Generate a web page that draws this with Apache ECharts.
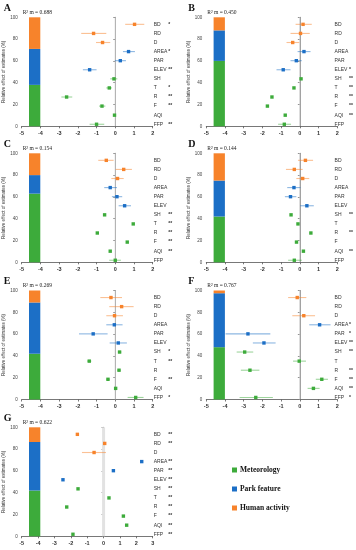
<!DOCTYPE html>
<html><head><meta charset="utf-8">
<script src="https://cdn.jsdelivr.net/npm/echarts@6/dist/echarts.min.js"></script>
<style>html,body{margin:0;padding:0;background:#fff}#c{width:356px;height:550px}</style>
</head><body><div id="c"></div>
<script>
const categories = ['BD','RD','D','AREA','PAR','ELEV','SH','T','R','F','AQI','FFP'];
const groupOf = ['human','human','human','park','park','park','met','met','met','met','met','met'];
const panelLetters = ['A','B','C','D','E','F','G'];
const r2Values = ['0.688','0.450','0.154','0.144','0.269','0.767','0.622'];
const xMins = [-5,-5,-5,-5,-5,-5,-5];
const xMaxs = [2,2,2,2,2,2,3];
const yTicks = [0,20,40,60,80,100];
const meteorologyShare = [38,60,63,42,42,48,42];
const parkShare = [33,28,17,33,47,49.5,44.5];
const humanShare = [29,12,20,25,11,2.5,13.5];

const estA = [1.03,-1.16,-0.68,0.71,0.27,-1.37,-0.07,-0.32,-2.6,-0.71,-0.04,-1.0];
const lowA = [0.53,-1.82,-1.03,0.41,-0.02,-1.73,-0.27,-0.48,-2.88,-0.87,-0.1,-1.37];
const highA = [1.55,-0.48,-0.27,1.05,0.57,-1.0,0.11,-0.18,-2.3,-0.53,0.02,-0.59];
const sigA = ['*','','','*','','**','','*','**','**','','**'];

const estB = [0.32,0.18,-0.25,0.37,-0.05,-0.77,0.21,-0.18,-1.39,-1.64,-0.66,-0.71];
const lowB = [-0.09,-0.37,-0.59,0.02,-0.37,-1.14,0.17,-0.22,-1.43,-1.68,-0.7,-1.05];
const highB = [0.8,0.69,0.11,0.73,0.25,-0.37,0.25,-0.14,-1.35,-1.6,-0.62,-0.34];
const sigB = ['','','','','','*','**','**','**','**','**',''];

const estC = [-0.48,0.45,0.12,-0.27,0.09,0.5,-0.57,0.96,-0.96,0.64,-0.27,0.0];
const lowC = [-0.91,0.02,-0.21,-0.59,-0.18,0.18,-0.61,0.92,-1.0,0.6,-0.31,-0.32];
const highC = [-0.09,0.89,0.45,0.09,0.37,0.84,-0.53,1.0,-0.92,0.68,-0.23,0.3];
const sigC = ['','','','','','','**','**','**','**','**',''];

const estD = [0.45,-0.16,0.3,-0.18,-0.37,0.53,-0.34,0.04,0.75,-0.04,0.34,-0.16];
const lowD = [0.04,-0.62,-0.05,-0.55,-0.68,0.16,-0.38,0.0,0.71,-0.08,0.3,-0.5];
const highD = [0.87,0.3,0.66,0.18,-0.05,0.91,-0.3,0.08,0.79,0.0,0.38,0.25];
const sigD = ['','','','','','','**','','**','','**',''];

const estE = [-0.23,0.34,-0.04,-0.05,-1.18,0.16,0.23,-1.39,0.2,-0.39,0.02,1.09];
const lowE = [-0.8,-0.32,-0.48,-0.48,-1.94,-0.3,0.14,-1.5,0.11,-0.48,-0.04,0.66];
const highE = [0.36,0.98,0.41,0.39,-0.41,0.62,0.32,-1.28,0.29,-0.3,0.08,1.51];
const sigE = ['','','','','','','*','**','','**','','*'];

const estF = [0.0,null,0.36,1.23,-2.71,-1.83,-2.89,0.11,-2.6,1.35,0.89,-2.28];
const lowF = [-0.5,null,-0.27,0.66,-3.94,-2.44,-3.33,-0.23,-3.1,1.02,0.57,-3.17];
const highF = [0.5,null,0.98,1.83,-1.48,-1.19,-2.42,0.48,-2.08,1.69,1.23,-1.34];
const sigF = ['','','','*','*','**','**','','**','**','**','*'];

const estG = [-1.6,0.07,-0.58,2.33,0.6,-2.48,-1.56,0.33,-2.25,1.21,1.41,-1.87];
const lowG = [-1.6,0.07,-1.32,2.33,0.6,-2.48,-1.56,0.33,-2.25,1.21,1.41,-1.87];
const highG = [-1.6,0.07,0.15,2.33,0.6,-2.48,-1.56,0.33,-2.25,1.21,1.41,-1.87];
const sigG = ['**','**','','**','**','**','**','**','**','**','**','**'];

const estimates = [estA,estB,estC,estD,estE,estF,estG];
const lows = [lowA,lowB,lowC,lowD,lowE,lowF,lowG];
const highs = [highA,highB,highC,highD,highE,highF,highG];
const sigs = [sigA,sigB,sigC,sigD,sigE,sigF,sigG];

const COLORS = {met:'#3dab3b', park:'#1c6fc6', human:'#f7832b'};
const colLeft = [21.7, 206.3];
const rowTop = [17.3, 153.3, 290.5, 427.3];
const PW = 131, PH = 109;
const sans = 'Liberation Sans', serif = 'Liberation Serif';

const grid = [], xAxis = [], yAxis = [], series = [], graphic = [];
panelLetters.forEach((L, p) => {
  const left = colLeft[p % 2], top = rowTop[Math.floor(p / 2)];
  const g0 = grid.length;
  grid.push({left: left, top: top, width: PW, height: PH});
  xAxis.push({type:'value', gridIndex:g0, min:xMins[p], max:xMaxs[p], interval:1,
    axisLine:{show:true,lineStyle:{color:'#555',width:0.8}}, axisTick:{show:true,length:2,lineStyle:{color:'#555',width:0.8}},
    axisLabel:{fontSize:5.5, fontFamily:sans, color:'#333', margin:4, fontWeight:'bold', showMaxLabel:true, showMinLabel:true, hideOverlap:false},
    splitLine:{show:false}});
  yAxis.push({type:'value', gridIndex:g0, min:0, max:100, interval:20,
    axisLine:{show:true,lineStyle:{color:'#777',width:0.8}}, axisTick:{show:true,length:2,lineStyle:{color:'#777',width:0.8}},
    axisLabel:{fontSize:4.5, fontFamily:sans, color:'#444', margin:4}, splitLine:{show:false},
    name:'Relative effect of estimates (%)', nameLocation:'middle', nameRotate:90, nameGap:12,
    nameTextStyle:{fontSize:4.5, fontFamily:sans, color:'#333'}});
  series.push({type:'line', xAxisIndex:g0, yAxisIndex:g0, data:[[0,0],[0,100]], symbol:'none', silent:true,
    lineStyle:{color: p===6 ? '#e2e2e2' : '#c4c4c4', width: p===6 ? 3 : 0.9}, z:1});
  const g1 = grid.length;
  grid.push({left: left + 7.3, top: top, width: 11.3, height: PH});
  xAxis.push({type:'category', gridIndex:g1, data:['share'], show:false});
  yAxis.push({type:'value', gridIndex:g1, min:0, max:100, show:false});
  [['Meteorology', meteorologyShare, COLORS.met], ['Park feature', parkShare, COLORS.park], ['Human activity', humanShare, COLORS.human]]
    .forEach(([nm, arr, col]) => series.push({type:'bar', name:nm, stack:'s'+p, xAxisIndex:g1, yAxisIndex:g1,
      data:[arr[p]], barWidth:'100%', itemStyle:{color:col}, silent:true}));
  const g2 = grid.length;
  grid.push({left: left, top: top + 2.5, width: PW, height: PH});
  xAxis.push({type:'value', gridIndex:g2, min:xMins[p], max:xMaxs[p], show:false});
  const sig = sigs[p];
  yAxis.push({type:'category', gridIndex:g2, data:categories, inverse:true, position:'right',
    axisLine:{show:false}, axisTick:{show:false}, splitLine:{show:false},
    axisLabel:{margin:1, interval:0, hideOverlap:false, formatter:(v, i) => '{n|' + v + '}{s|' + (sig[i] || '') + '}',
      rich:{n:{width:14.5, fontSize:5, fontFamily:sans, color:'#333'}, s:{fontSize:5, fontFamily:sans, color:'#333', fontWeight:'bold'}}}});
  const est = estimates[p], lo = lows[p], hi = highs[p];
  const data = [];
  est.forEach((v, i) => { if (v !== null) data.push([v, lo[i], hi[i], i]); });
  series.push({type:'custom', xAxisIndex:g2, yAxisIndex:g2, data:data, encode:{x:[0,1,2], y:3}, z:5,
    renderItem:(params, api) => {
      const i = api.value(3);
      const c = api.coord([api.value(0), i]);
      const a = api.coord([api.value(1), i]);
      const b = api.coord([api.value(2), i]);
      const col = COLORS[groupOf[i]];
      return {type:'group', children:[
        {type:'line', shape:{x1:a[0], y1:a[1], x2:b[0], y2:b[1]}, style:{stroke:col, lineWidth:1.1, opacity:0.5}},
        {type:'rect', shape:{x:c[0]-1.7, y:c[1]-1.7, width:3.4, height:3.4}, style:{fill:col}}
      ]};
    }});
  graphic.push({type:'text', left: left - 18, top: top - 14, style:{text:L, font:'bold 10px "Liberation Serif"', fill:'#111'}});
  graphic.push({type:'text', left: left + 1, top: top - 8, style:{text:'R² m = ' + r2Values[p], font:'5.5px "Liberation Serif"', fill:'#222'}});
});

const chart = echarts.init(document.getElementById('c'), null, {renderer:'canvas'});
chart.setOption({
  animation:false,
  grid, xAxis, yAxis, series, graphic,
  legend:{data:['Meteorology','Park feature','Human activity'], orient:'vertical', left:227, top:461,
    itemWidth:5, itemHeight:5, itemGap:11, icon:'rect', selectedMode:false,
    textStyle:{fontSize:7.5, fontFamily:serif, fontWeight:'bold', color:'#111', padding:[0,0,0,-2]}}
});
</script></body></html>
